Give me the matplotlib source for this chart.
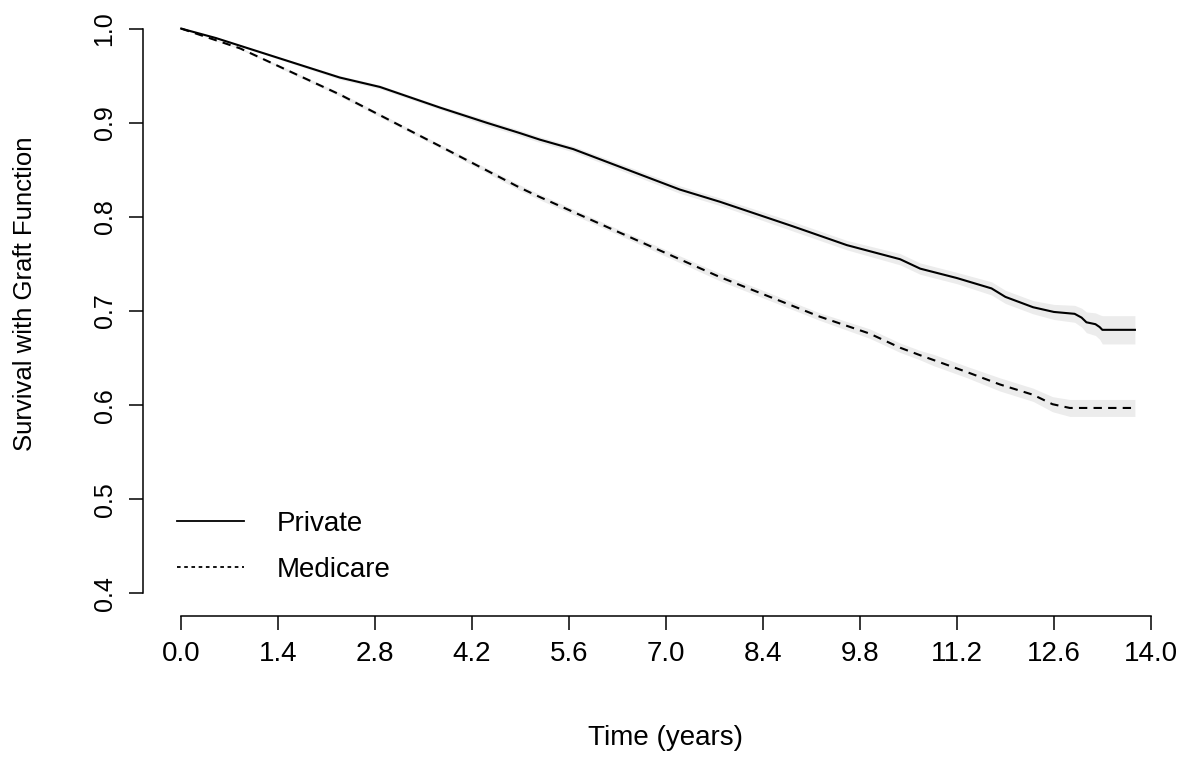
import numpy as np
import matplotlib.pyplot as plt
from matplotlib.lines import Line2D

plt.rcParams['font.family'] = ['Liberation Sans', 'DejaVu Sans']

# Kaplan-Meier estimates (time in years)
private_t = [0.0, 0.5, 1.14, 2.29, 2.87, 3.74, 4.41, 4.89, 5.18, 5.66, 7.20, 7.78,
             8.83, 9.61, 10.38, 10.67, 11.2, 11.7, 11.9, 12.3, 12.6, 12.9, 13.0,
             13.07, 13.2, 13.26, 13.3, 13.77]
private_s = [1.0, 0.990, 0.975, 0.948, 0.938, 0.916, 0.900, 0.889, 0.882, 0.872, 0.829, 0.816,
             0.790, 0.770, 0.755, 0.745, 0.735, 0.724, 0.715, 0.704, 0.699, 0.697, 0.693,
             0.688, 0.686, 0.683, 0.680, 0.680]
private_ci = [0.0, 0.001, 0.001, 0.002, 0.002, 0.002, 0.003, 0.003, 0.003, 0.003, 0.004, 0.004,
              0.005, 0.005, 0.006, 0.006, 0.006, 0.007, 0.007, 0.007, 0.008, 0.009, 0.010,
              0.011, 0.012, 0.013, 0.015, 0.015]

medicare_t = [0.0, 0.85, 2.29, 3.74, 4.89, 5.18, 6.34, 7.78, 9.22, 9.94, 10.38, 10.67,
              10.86, 11.35, 11.82, 12.3, 12.58, 12.83, 13.77]
medicare_s = [1.0, 0.979, 0.930, 0.875, 0.831, 0.821, 0.783, 0.736, 0.694, 0.676, 0.661, 0.653,
              0.648, 0.635, 0.622, 0.611, 0.601, 0.597, 0.597]
medicare_ci = [0.0, 0.001, 0.002, 0.002, 0.003, 0.003, 0.003, 0.004, 0.004, 0.005, 0.005, 0.005,
               0.006, 0.006, 0.007, 0.007, 0.008, 0.009, 0.009]

xticks = [0.0, 1.4, 2.8, 4.2, 5.6, 7.0, 8.4, 9.8, 11.2, 12.6, 14.0]
yticks = [0.4, 0.5, 0.6, 0.7, 0.8, 0.9, 1.0]

W, H = 1186, 757
FS = 20
fig = plt.figure(figsize=(W / 100, H / 100), dpi=100)
ax = fig.add_axes([143 / W, 1 - 616 / H, (1173 - 143) / W, (616 - 6) / H])

# confidence bands
band = '#ececec'
for t, s, ci in [(private_t, private_s, private_ci), (medicare_t, medicare_s, medicare_ci)]:
    t = np.array(t); s = np.array(s); ci = np.array(ci)
    ax.fill_between(t, s - ci, s + ci, color=band, lw=0)

ax.plot(private_t, private_s, color='black', lw=1.5)
ax.plot(medicare_t, medicare_s, color='black', lw=1.5, dashes=(4, 3))

ax.set_xlim(-0.551, 14.32)
ax.set_ylim(0.376, 1.024)

for side in ['top', 'right']:
    ax.spines[side].set_visible(False)
ax.spines['left'].set_bounds(0.4, 1.0)
ax.spines['bottom'].set_bounds(0.0, 14.0)
ax.spines['left'].set_linewidth(1.1)
ax.spines['bottom'].set_linewidth(1.1)

ax.set_xticks(xticks)
ax.set_xticklabels([f'{v:.1f}' for v in xticks])
ax.set_yticks(yticks)
ax.set_yticklabels([f'{v:.1f}' for v in yticks], rotation=90, va='center')
ax.tick_params(direction='out', length=10, width=1.1, pad=8)
ax.tick_params(axis='x', labelsize=FS)
ax.tick_params(axis='y', labelsize=18, pad=9)

fig.text(666 / W, 1 - 738 / H, 'Time (years)', ha='center', va='center', fontsize=FS)
fig.text(25 / W, 1 - 294 / H, 'Survival with Graft Function', ha='center', va='center',
         rotation=90, fontsize=18.5)

handles = [Line2D([], [], color='black', lw=1.3),
           Line2D([], [], color='black', lw=1.3, dashes=(2, 2))]
ax.legend(handles, ['Private', 'Medicare'], loc='upper left',
          bbox_to_anchor=(0.0087, 0.213),
          frameon=False, fontsize=FS, handlelength=2.41, handletextpad=1.19,
          labelspacing=0.72, borderpad=0.4)

fig.savefig('out.png', dpi=100)
